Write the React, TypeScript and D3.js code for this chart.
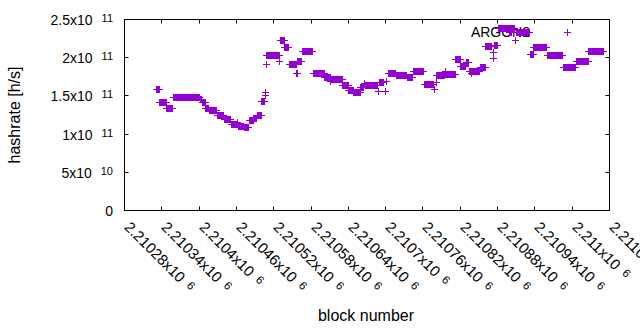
import React from 'react';
import * as d3 from 'd3';

// Runs of consecutive blocks that share the same hashrate estimate
const runStart = [
  2210331, 2210337, 2210348, 2210358, 2210402, 2210405, 2210411, 2210416, 2210429, 2210441,
  2210452, 2210462, 2210463, 2210473, 2210481, 2210488, 2210494, 2210501, 2210506, 2210507,
  2210508, 2210509, 2210530, 2210531, 2210538, 2210545, 2210557, 2210559, 2210566, 2210584,
  2210602, 2210612, 2210613, 2210631, 2210641, 2210649, 2210660, 2210666, 2210667, 2210688,
  2210690, 2210699, 2210702, 2210704, 2210717, 2210735, 2210744, 2210762, 2210778, 2210781,
  2210782, 2210796, 2210797, 2210813, 2210821, 2210830, 2210835, 2210838, 2210852, 2210861,
  2210873, 2210874, 2210875, 2210881, 2210899, 2210909, 2210910, 2210933, 2210938, 2210960,
  2210986, 2211007, 2211027,
];
const runEnd = [
  2210336, 2210347, 2210357, 2210401, 2210404, 2210410, 2210415, 2210428, 2210440, 2210451,
  2210461, 2210462, 2210472, 2210480, 2210487, 2210493, 2210500, 2210505, 2210506, 2210507,
  2210508, 2210529, 2210530, 2210537, 2210544, 2210556, 2210558, 2210565, 2210583, 2210601,
  2210611, 2210612, 2210630, 2210640, 2210648, 2210659, 2210665, 2210666, 2210687, 2210688,
  2210697, 2210699, 2210702, 2210716, 2210734, 2210743, 2210761, 2210777, 2210778, 2210781,
  2210794, 2210796, 2210812, 2210820, 2210829, 2210834, 2210851, 2210838, 2210860, 2210871,
  2210873, 2210874, 2210880, 2210908, 2210902, 2210909, 2210932, 2210937, 2210959, 2210985,
  2211006, 2211026, 2211051,
];
const runHashrate = [
  1.59e11, 1.41e11, 1.33e11, 1.475e11, 1.45e11, 1.42e11, 1.34e11, 1.305e11, 1.25e11, 1.19e11,
  1.13e11, 1.156e11, 1.10e11, 1.083e11, 1.18e11, 1.20e11, 1.24e11, 1.43e11, 1.55e11, 1.51e11,
  1.91e11, 2.025e11, 1.955e11, 2.22e11, 2.13e11, 1.91e11, 1.79e11, 1.955e11, 2.08e11, 1.79e11,
  1.745e11, 1.69e11, 1.72e11, 1.63e11, 1.57e11, 1.54e11, 1.61e11, 1.66e11, 1.63e11, 1.56e11,
  1.67e11, 1.56e11, 1.69e11, 1.79e11, 1.77e11, 1.74e11, 1.815e11, 1.645e11, 1.58e11, 1.68e11,
  1.77e11, 1.82e11, 1.78e11, 1.97e11, 1.885e11, 1.94e11, 1.82e11, 1.79e11, 1.875e11, 2.145e11,
  1.99e11, 2.07e11, 2.16e11, 2.38e11, 2.33e11, 2.225e11, 2.325e11, 2.04e11, 2.13e11, 2.025e11,
  1.87e11, 1.955e11, 2.08e11,
];

const yTicks = [0, 5e10, 1e11, 1.5e11, 2e11, 2.5e11];
const yTickMantissa = ['0', '5x10', '1x10', '1.5x10', '2x10', '2.5x10'];
const yTickExponent = ['', '10', '11', '11', '11', '11'];

const xTicks = [
  2210280, 2210340, 2210400, 2210460, 2210520, 2210580, 2210640,
  2210700, 2210760, 2210820, 2210880, 2210940, 2211000, 2211060,
];
const xTickMantissa = [
  '2.21028', '2.21034', '2.2104', '2.21046', '2.21052', '2.21058', '2.21064',
  '2.2107', '2.21076', '2.21082', '2.21088', '2.21094', '2.211', '2.21106',
];
const xTickExponent = '6';

const seriesName = 'ARGON2';
const COLOR = '#9400d3';
const FONT = "'Liberation Sans', Arial, sans-serif";

const W = 640;
const H = 330;
const L = 124.5, R = 609.5, T = 19.5, B = 210.5;

export default function App() {
  const x = d3.scaleLinear().domain([xTicks[0], xTicks[xTicks.length - 1]]).range([L, R]);
  const y = d3.scaleLinear().domain([0, 2.5e11]).range([B, T]);
  const snap = (v: number) => Math.round(v - 0.5) + 0.5;
  const tick = 4;

  const marks = runStart.map((s, i) => {
    const x0 = snap(x(s));
    const x1 = snap(x(runEnd[i]));
    const yy = snap(y(runHashrate[i]));
    return (
      <g key={i}>
        <rect x={x0 - 0.5} y={yy - 3.5} width={x1 - x0 + 1} height={7} fill={COLOR} />
        <line x1={x0 - 3.5} x2={x1 + 3.5} y1={yy} y2={yy} stroke={COLOR} strokeWidth={1} />
      </g>
    );
  });

  const keyX = R - 42;
  const keyY = 32.5;

  return (
    <svg width={W} height={H} style={{ position: 'absolute', left: 0, top: 0, background: '#fff' }}
      fontFamily={FONT}>
      <rect x={0} y={0} width={W} height={H} fill="#fff" />
      {yTicks.map((t, i) => {
        const yy = snap(y(t));
        return (
          <g key={'y' + i}>
            <line x1={L} x2={L + tick} y1={yy} y2={yy} stroke="#000" />
            <line x1={R} x2={R - tick} y1={yy} y2={yy} stroke="#000" />
            <text x={113} y={yy + 5.5} textAnchor="end" fontSize={14} fill="#000">
              {yTickMantissa[i]}
              {yTickExponent[i] && (
                <tspan dx={9} dy={-3.5} fontSize={11}>{yTickExponent[i]}</tspan>
              )}
            </text>
          </g>
        );
      })}
      {xTicks.map((t, i) => {
        const xx = snap(x(t));
        return (
          <g key={'x' + i}>
            <line x1={xx} x2={xx} y1={B} y2={B - tick} stroke="#000" />
            <line x1={xx} x2={xx} y1={T} y2={T + tick} stroke="#000" />
            <text transform={`translate(${xx - 1},228) rotate(45)`} fontSize={15} fill="#000">
              {xTickMantissa[i]}x10
              <tspan dx={7} dy={-3} fontSize={11.5}>{xTickExponent}</tspan>
            </text>
          </g>
        );
      })}
      <rect x={L} y={T} width={R - L} height={B - T} fill="none" stroke="#000" strokeWidth={1} />
      <text x={530} y={37} textAnchor="end" fontSize={14} fill="#000">{seriesName}</text>
      <line x1={keyX - 3.5} x2={keyX + 3.5} y1={keyY} y2={keyY} stroke={COLOR} />
      <line x1={keyX} x2={keyX} y1={keyY - 3.5} y2={keyY + 3.5} stroke={COLOR} />
      {marks}
      <text transform={`translate(20,115) rotate(-90)`} textAnchor="middle" fontSize={16} fill="#000">
        hashrate [h/s]
      </text>
      <text x={366} y={321} textAnchor="middle" fontSize={16} fill="#000">block number</text>
    </svg>
  );
}
